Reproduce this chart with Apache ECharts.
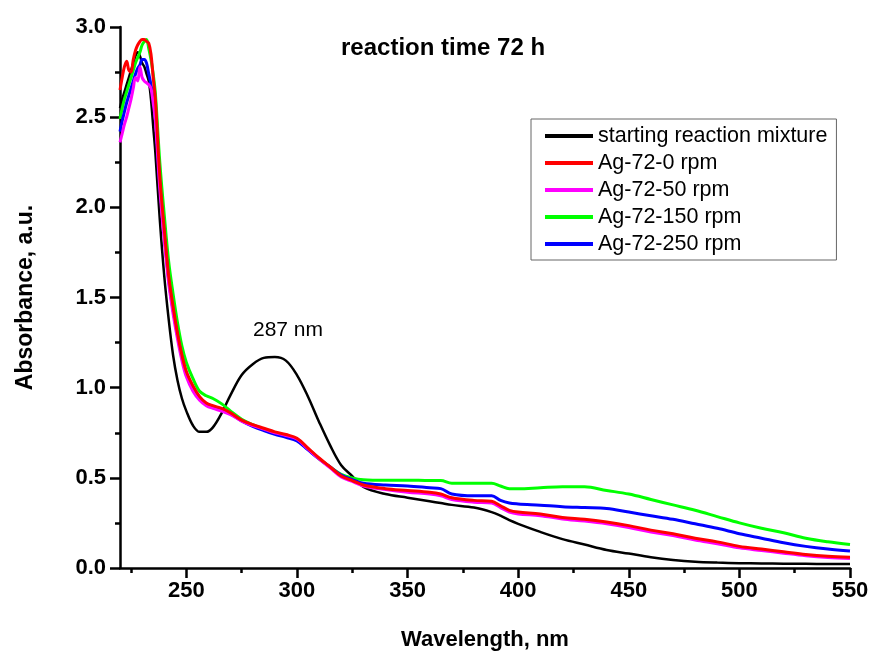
<!DOCTYPE html>
<html>
<head>
<meta charset="utf-8">
<title>reaction time 72 h</title>
<script src="https://cdn.jsdelivr.net/npm/echarts@6/dist/echarts.min.js"></script>
<style>
    html, body { margin: 0; padding: 0; background: #fff; }
    #uvChart { width: 870px; height: 653px; }
</style>
</head>
<body>
<div id="uvChart"></div>
<script>
var wavelength = [220, 221, 222, 223, 224, 225, 226, 227, 228, 229, 230, 231, 232, 233, 234, 235, 236,
    238, 240, 242, 244, 246, 248, 250, 253, 256, 259, 262, 266, 270, 275, 280, 285, 290, 295, 300,
    305, 310, 315, 320, 325, 330, 340, 350, 360, 365, 370, 380, 388, 392, 396, 400,
    410, 420, 430, 440, 450, 460, 470, 480, 490, 500, 510, 520, 530, 540, 550]

var startingMixture = [2.55, 2.60, 2.64, 2.68, 2.72, 2.76, 2.80, 2.84, 2.86, 2.84, 2.80, 2.78, 2.74, 2.70, 2.60, 2.45, 2.30,
    1.93, 1.62, 1.38, 1.18, 1.04, 0.94, 0.87, 0.79, 0.755, 0.755, 0.78, 0.86, 0.96, 1.07, 1.13, 1.165, 1.17, 1.15, 1.07,
    0.95, 0.81, 0.68, 0.57, 0.51, 0.45, 0.41, 0.39, 0.37, 0.36, 0.35, 0.335, 0.31, 0.29, 0.265, 0.245,
    0.20, 0.16, 0.13, 0.10, 0.08, 0.06, 0.045, 0.035, 0.03, 0.027, 0.025, 0.024, 0.023, 0.022, 0.022]

var rpm0 = [2.65, 2.72, 2.78, 2.81, 2.76, 2.75, 2.82, 2.87, 2.90, 2.92, 2.93, 2.93, 2.92, 2.91, 2.85, 2.72, 2.60,
    2.17, 1.88, 1.62, 1.45, 1.30, 1.18, 1.09, 1.01, 0.95, 0.915, 0.90, 0.885, 0.86, 0.82, 0.795, 0.775, 0.755, 0.74, 0.72,
    0.665, 0.61, 0.56, 0.51, 0.485, 0.46, 0.44, 0.43, 0.42, 0.41, 0.39, 0.375, 0.37, 0.345, 0.32, 0.31,
    0.30, 0.28, 0.27, 0.255, 0.235, 0.21, 0.19, 0.165, 0.145, 0.12, 0.105, 0.09, 0.075, 0.065, 0.06]

var rpm50 = [2.36, 2.41, 2.46, 2.50, 2.55, 2.60, 2.66, 2.72, 2.70, 2.78, 2.72, 2.70, 2.69, 2.68, 2.66, 2.58, 2.48,
    2.10, 1.82, 1.58, 1.41, 1.27, 1.15, 1.06, 0.98, 0.93, 0.90, 0.885, 0.87, 0.85, 0.815, 0.79, 0.77, 0.75, 0.735, 0.715,
    0.66, 0.605, 0.555, 0.505, 0.48, 0.455, 0.435, 0.42, 0.41, 0.40, 0.38, 0.365, 0.36, 0.335, 0.31, 0.30,
    0.29, 0.272, 0.26, 0.245, 0.225, 0.20, 0.18, 0.155, 0.135, 0.112, 0.097, 0.082, 0.068, 0.058, 0.052]

var rpm150 = [2.49, 2.55, 2.60, 2.64, 2.68, 2.72, 2.76, 2.80, 2.83, 2.86, 2.90, 2.92, 2.93, 2.88, 2.82, 2.74, 2.63,
    2.25, 1.96, 1.70, 1.52, 1.36, 1.23, 1.14, 1.05, 0.98, 0.955, 0.94, 0.91, 0.87, 0.825, 0.795, 0.77, 0.75, 0.735, 0.715,
    0.66, 0.605, 0.56, 0.52, 0.50, 0.49, 0.487, 0.487, 0.485, 0.485, 0.47, 0.47, 0.47, 0.455, 0.44, 0.44,
    0.445, 0.45, 0.45, 0.43, 0.41, 0.38, 0.35, 0.32, 0.285, 0.25, 0.22, 0.195, 0.165, 0.145, 0.13]

var rpm250 = [2.42, 2.48, 2.53, 2.58, 2.62, 2.66, 2.70, 2.74, 2.77, 2.79, 2.82, 2.82, 2.80, 2.74, 2.68, 2.60, 2.50,
    2.13, 1.85, 1.60, 1.43, 1.29, 1.17, 1.08, 1.00, 0.94, 0.91, 0.895, 0.875, 0.855, 0.815, 0.785, 0.762, 0.742, 0.725, 0.705,
    0.655, 0.605, 0.56, 0.515, 0.49, 0.47, 0.46, 0.455, 0.445, 0.44, 0.41, 0.40, 0.40, 0.375, 0.36, 0.355,
    0.348, 0.34, 0.335, 0.33, 0.31, 0.29, 0.27, 0.245, 0.22, 0.19, 0.165, 0.14, 0.12, 0.105, 0.094]

var xTicks = [250, 300, 350, 400, 450, 500, 550]
var xMinorTicks = [225, 275, 325, 375, 425, 475, 525]

var font = 'Liberation Sans, Arial, sans-serif'

var pairs = (ys) => {
    var list = []
    for (var i = 0; i < wavelength.length; i++) {
        list.push([wavelength[i], ys[i]])
    }
    return list
}

var lineSeries = (name, ys, color, width) => {
    return {
        name: name,
        type: 'line',
        data: pairs(ys),
        showSymbol: false,
        symbol: 'none',
        smooth: 0.35,
        lineStyle: { color: color, width: width },
        itemStyle: { color: color },
        z: 2,
    }
}

var chart = echarts.init(document.querySelector('#uvChart'), null, { renderer: 'canvas' })

var option = {
    animation: false,
    backgroundColor: '#fff',
    title: {
        text: 'reaction time 72 h',
        left: 336,
        top: 31,
        textStyle: { fontFamily: font, fontSize: 24, fontWeight: 'bold', color: '#000' },
    },
    legend: {
        orient: 'vertical',
        left: 531,
        top: 119,
        padding: [5, 9, 4, 14],
        borderColor: '#666',
        borderWidth: 1,
        itemWidth: 48,
        itemHeight: 4,
        itemGap: 3,
        icon: 'rect',
        data: ['starting reaction mixture', 'Ag-72-0 rpm', 'Ag-72-50 rpm', 'Ag-72-150 rpm', 'Ag-72-250 rpm'],
        textStyle: { fontFamily: font, fontSize: 21.5, lineHeight: 24, color: '#000' },
    },
    grid: { left: 120, right: 20, top: 27, bottom: 85, outerBoundsMode: 'none', containLabel: false },
    xAxis: [
        {
            type: 'value',
            min: 220,
            max: 550,
            name: 'Wavelength, nm',
            nameLocation: 'middle',
            nameGap: 61,
            nameTextStyle: { fontFamily: font, fontSize: 22, fontWeight: 'bold', color: '#000' },
            axisLine: { onZero: false, lineStyle: { color: '#000', width: 2.5 } },
            axisTick: { length: 10, customValues: xTicks, lineStyle: { color: '#000', width: 2.5 } },
            axisLabel: {
                customValues: xTicks,
                margin: 12,
                fontFamily: font, fontSize: 22, fontWeight: 'bold', color: '#000',
            },
            splitLine: { show: false },
        },
        {
            type: 'value',
            min: 220,
            max: 550,
            position: 'bottom',
            axisLine: { show: false },
            axisTick: { length: 5, customValues: xMinorTicks, lineStyle: { color: '#000', width: 2.5 } },
            axisLabel: { show: false },
            splitLine: { show: false },
        },
    ],
    yAxis: {
        type: 'value',
        min: 0,
        max: 3,
        interval: 0.5,
        name: 'Absorbance, a.u.',
        nameLocation: 'middle',
        nameGap: 83,
        nameTextStyle: { fontFamily: font, fontSize: 23, fontWeight: 'bold', color: '#000' },
        axisLine: { show: true, onZero: false, lineStyle: { color: '#000', width: 2.5 } },
        axisTick: { show: true, length: 10, lineStyle: { color: '#000', width: 2.5 } },
        minorTick: { show: true, splitNumber: 2, length: 5, lineStyle: { color: '#000', width: 2.5 } },
        axisLabel: {
            margin: 14,
            formatter: (v) => v.toFixed(1),
            fontFamily: font, fontSize: 22, fontWeight: 'bold', color: '#000',
        },
        splitLine: { show: false },
    },
    graphic: [
        {
            type: 'text',
            left: 253,
            top: 320,
            style: { text: '287 nm', fontFamily: font, fontSize: 21, fill: '#000' },
        },
    ],
    series: [
        lineSeries('starting reaction mixture', startingMixture, '#000000', 2.5),
        lineSeries('Ag-72-150 rpm', rpm150, '#00ff00', 3),
        lineSeries('Ag-72-250 rpm', rpm250, '#0000ff', 3),
        lineSeries('Ag-72-50 rpm', rpm50, '#ff00ff', 3),
        lineSeries('Ag-72-0 rpm', rpm0, '#ff0000', 3),
    ],
}

chart.setOption(option)
</script>
</body>
</html>
